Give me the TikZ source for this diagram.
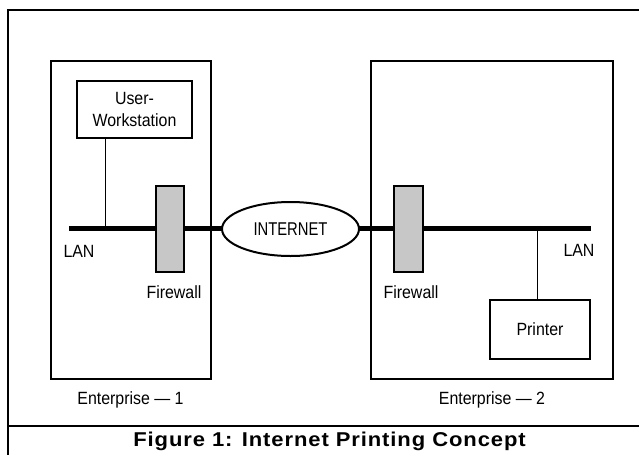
\documentclass[tikz,border=0pt]{standalone}
\usepackage{fontspec}
\setmainfont{Liberation Sans}
\newfontfamily\condf[FakeStretch=0.9]{Liberation Sans}
\newfontfamily\condcaps[FakeStretch=0.8]{Liberation Sans}
\newfontfamily\titlef[FakeStretch=1.1,LetterSpace=4.5]{Liberation Sans}
\usetikzlibrary{shapes.geometric}
\begin{document}
\begin{tikzpicture}[x=1pt,y=-1pt,
  frame/.style={line width=2pt},
  ent/.style={draw,line width=2pt,inner sep=0pt,outer sep=0pt},
  dev/.style={draw,line width=2pt,inner sep=0pt,outer sep=0pt,align=center,
    font=\condf\fontsize{17.7}{22}\selectfont},
  fw/.style={draw,line width=2pt,fill=black!22,inner sep=0pt,outer sep=0pt,
    minimum height=86pt},
  lan/.style={line width=5pt},
  tap/.style={line width=1pt},
  lbl/.style={anchor=base,inner sep=0pt,font=\condf\fontsize{17.7}{20}\selectfont}]
\useasboundingbox (0,0) rectangle (639,455);
% outer frame
\draw[frame] (639,10) -- (8,10) -- (8,455);
\draw[frame] (8,426) -- (639,426);
% enterprises
\node[ent,minimum width=160pt,minimum height=318pt] (e1) at (131,220) {};
\node[ent,minimum width=242pt,minimum height=318pt] (e2) at (492,220) {};
% devices
\node[dev,minimum width=115pt,minimum height=57pt] (ws) at (134.5,109.5) {User-\\Workstation};
\node[dev,minimum width=100pt,minimum height=59pt] (pr) at (540,329.5) {Printer};
% internet
\node[ellipse,draw,line width=2pt,fill=white,minimum width=137pt,minimum height=54pt,
  inner sep=0pt,outer sep=0pt,font=\condcaps\fontsize{18.5}{20}\selectfont] (inet) at (290.5,229) {INTERNET};
% LAN
\coordinate (lanL) at (69,228);
\coordinate (lanR) at (591,228);
\coordinate (tap1) at (105,228);
\coordinate (tap2) at (537,228);
\draw[lan] (lanL) -- (inet.west |- lanL);
\draw[lan] (inet.east |- lanR) -- (lanR);
\draw[tap] (ws.south -| tap1) -- (tap1);
\draw[tap] (tap2) -- (pr.north -| tap2);
% firewalls
\node[fw,minimum width=28pt] (fw1) at (170,229) {};
\node[fw,minimum width=29pt] (fw2) at (408.5,229) {};
% labels
\node[lbl] (lan1) at (79,257) {LAN};
\node[lbl] (lan2) at (579,256) {LAN};
\node[lbl] (fwl1) at (174,298) {Firewall};
\node[lbl] (fwl2) at (411,298) {Firewall};
\node[lbl] (en1) at (130.5,404) {Enterprise — 1};
\node[lbl] (en2) at (492,404) {Enterprise — 2};
\node[anchor=base,inner sep=0pt,font=\titlef\bfseries\fontsize{20}{22}\selectfont] (title) at (329.5,446) {Figure 1: Internet Printing Concept};
\end{tikzpicture}
\end{document}
